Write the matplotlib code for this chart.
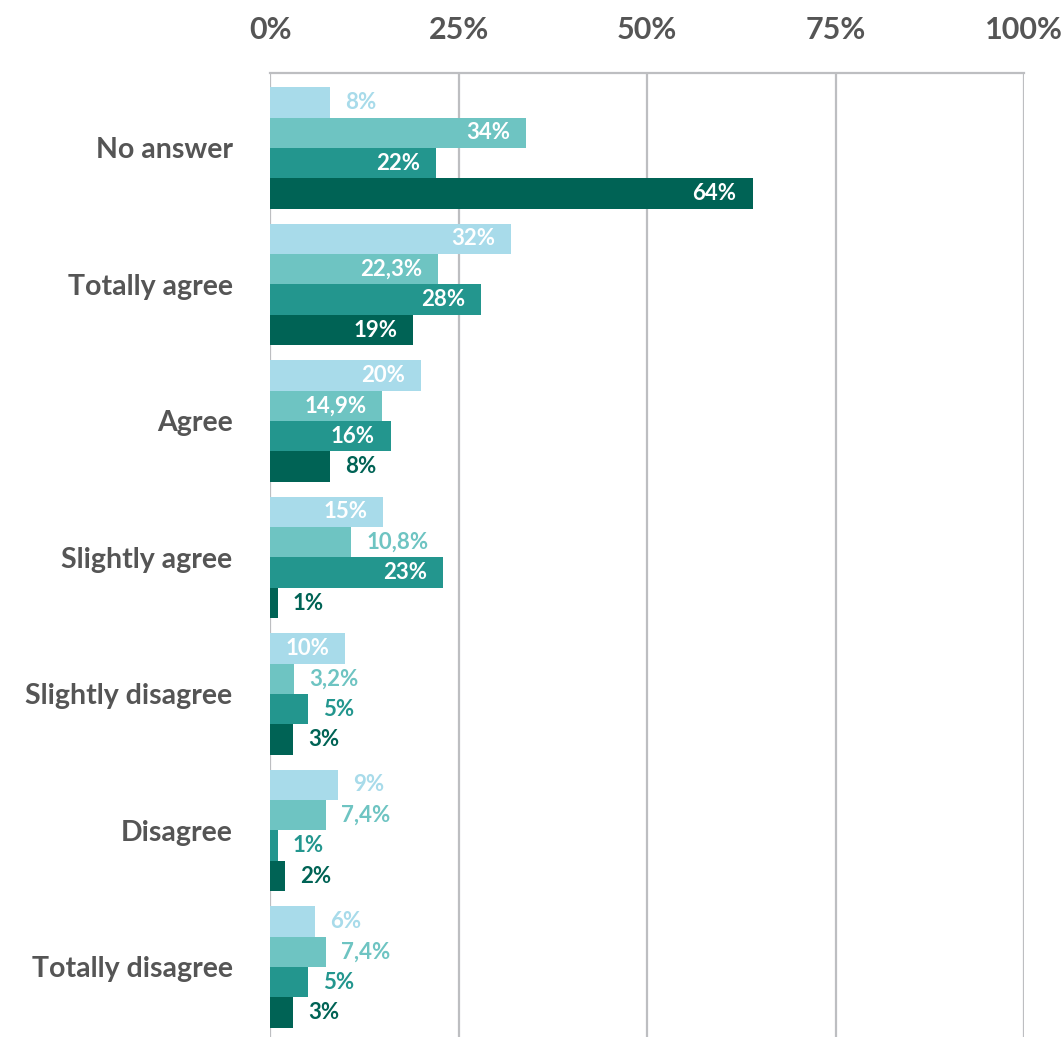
import matplotlib
matplotlib.use("Agg")
import matplotlib.pyplot as plt

categories = ["No answer", "Totally agree", "Agree", "Slightly agree",
              "Slightly disagree", "Disagree", "Totally disagree"]
series_a = [8, 32, 20, 15, 10, 9, 6]
series_b = [34, 22.3, 14.9, 10.8, 3.2, 7.4, 7.4]
series_c = [22, 28, 16, 23, 5, 1, 5]
series_d = [64, 19, 8, 1, 3, 2, 3]
labels_b = ["34%", "22,3%", "14,9%", "10,8%", "3,2%", "7,4%", "7,4%"]
x_ticks = [0, 25, 50, 75, 100]
x_tick_labels = ["0%", "25%", "50%", "75%", "100%"]

colors = ["#A8DBEA", "#6EC4C2", "#23968E", "#006355"]
grid_color = "#BDBEC1"
text_color = "#555555"

plt.rcParams["font.family"] = ["Lato", "DejaVu Sans"]

DPI = 100
fig = plt.figure(figsize=(10.64, 10.37), dpi=DPI)
ax = fig.add_axes([270 / 1064, 0.0, (1024 - 270) / 1064, (1037 - 73) / 1037])

bar_h = 0.223
offsets = [-1.5 * bar_h, -0.5 * bar_h, 0.5 * bar_h, 1.5 * bar_h]
all_series = [series_a, series_b, series_c, series_d]
all_labels = [
    [f"{v:g}%" for v in series_a],
    labels_b,
    [f"{v:g}%" for v in series_c],
    [f"{v:g}%" for v in series_d],
]

ax.set_xlim(0, 100)
ax.set_ylim(len(categories) - 1 + 0.513, -0.549)

for k, vals in enumerate(all_series):
    ys = [i + offsets[k] for i in range(len(categories))]
    ax.barh(ys, vals, height=bar_h, color=colors[k], zorder=3, linewidth=0)

fig.canvas.draw()
renderer = fig.canvas.get_renderer()
px_per_unit = ax.get_window_extent().width / 100.0

# value labels: white inside the bar when it is roomy enough, else coloured outside
label_kw = dict(fontsize=16, fontweight="bold", va="center", zorder=4)
for k, (vals, labs) in enumerate(zip(all_series, all_labels)):
    for i, (v, lab) in enumerate(zip(vals, labs)):
        y = i + offsets[k]
        t = ax.annotate(lab, xy=(v, y), xytext=(-11.5, 0), textcoords="offset points",
                        ha="right", color="white", **label_kw)
        tw = t.get_window_extent(renderer).width
        bar_px = v * px_per_unit
        if not (v >= 10 and bar_px >= 1.5 * tw):
            t.remove()
            ax.annotate(lab, xy=(v, y), xytext=(11, 0), textcoords="offset points",
                        ha="left", color=colors[k], **label_kw)

ax.set_xticks(x_ticks)
ax.set_xticklabels(x_tick_labels)
ax.xaxis.tick_top()
ax.tick_params(axis="x", length=0, pad=21, labelsize=22, labelcolor=text_color)
for lbl in ax.get_xticklabels():
    lbl.set_fontweight("bold")

ax.set_yticks(range(len(categories)))
ax.set_yticklabels(categories)
ax.tick_params(axis="y", length=0, pad=27, labelsize=20.5, labelcolor=text_color)
for lbl in ax.get_yticklabels():
    lbl.set_fontweight("bold")

ax.grid(axis="x", color=grid_color, linewidth=1.6, zorder=0)
ax.grid(axis="y", visible=False)
for side in ["left", "right", "bottom"]:
    ax.spines[side].set_visible(False)
ax.spines["top"].set_color(grid_color)
ax.spines["top"].set_linewidth(1.6)

fig.savefig("out.png", dpi=DPI)
